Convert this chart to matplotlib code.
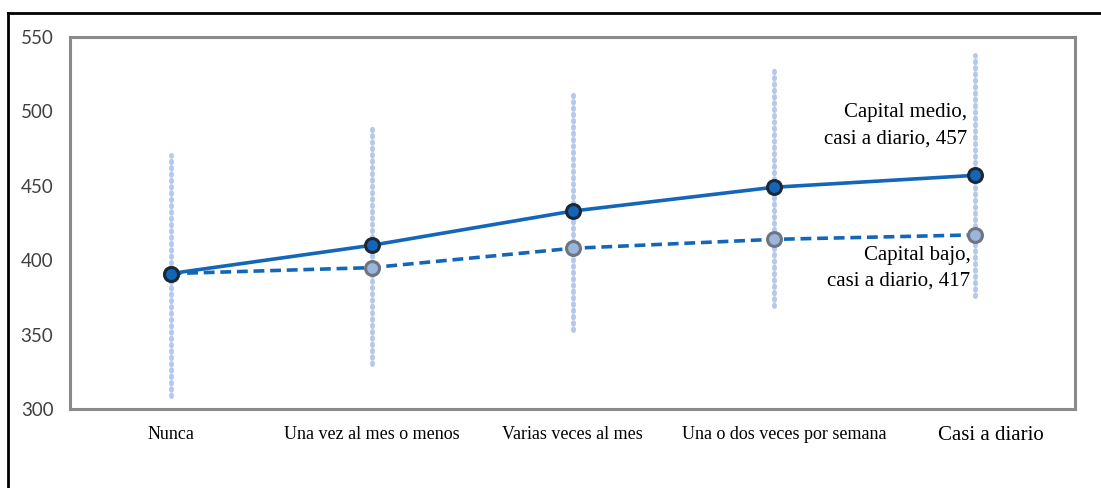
import matplotlib
matplotlib.use("Agg")
import matplotlib.pyplot as plt
from matplotlib.lines import Line2D
from matplotlib.transforms import offset_copy

# Frecuencia de lectura y puntaje medio por nivel de capital
categorias = ["Nunca", "Una vez al mes o menos", "Varias veces al mes",
              "Una o dos veces por semana", "Casi a diario"]
capital_medio = [391, 410, 433, 449, 457]
capital_bajo = [391, 395, 408, 414, 417]

# Rango de cada categoría (barras punteadas)
rango_min = [309, 330, 353, 369, 376]
rango_max = [471, 491, 514, 530, 538]

yticks = [300, 350, 400, 450, 500, 550]

azul = "#1466b8"
azul_claro = "#b7c9ea"

fig = plt.figure(figsize=(11.01, 4.88), dpi=100)
ax = fig.add_axes([0.0636, 0.1619, 0.9128, 0.7623])

x = list(range(len(categorias)))

# barras de rango
ax.vlines(x, rango_min, rango_max, colors=azul_claro, linewidth=3.5,
          linestyles=(0, (0.3, 1.0)), capstyle="round", zorder=1)

ax.plot(x, capital_bajo, color=azul, linewidth=2.6, linestyle=(0, (3, 1.6)),
        marker="o", markersize=10, markerfacecolor="#9ab6dc",
        markeredgecolor="#6e7580", markeredgewidth=2.2, zorder=3)
ax.plot(x, capital_medio, color=azul, linewidth=2.6,
        marker="o", markersize=10, markerfacecolor=azul,
        markeredgecolor="#1c2836", markeredgewidth=2.2, zorder=4)

ax.set_xlim(-0.5, 4.5)
ax.set_ylim(300, 550)
ax.set_yticks(yticks)
ax.set_xticks([])
ax.tick_params(axis="y", length=0, pad=12, labelsize=13.5, labelcolor="#404040")
for lbl in ax.get_yticklabels():
    lbl.set_fontfamily("Lato")
    lbl.set_verticalalignment("center_baseline")

for s in ax.spines.values():
    s.set_color("#8a8a8a")
    s.set_linewidth(2.2)

# etiquetas de categoría bajo el eje (las dos últimas algo corridas a la derecha)
desplaz = [0, 0, 0, 11, 16]
for i, c in enumerate(categorias):
    size = 15 if i == len(categorias) - 1 else 13
    tr = offset_copy(ax.transData, fig=fig, x=desplaz[i], y=-17, units="dots")
    ax.text(i, 300, c, transform=tr, ha="center", va="top",
            fontsize=size, family="Liberation Serif", color="black")

ax.annotate("Capital medio,\ncasi a diario, %d" % capital_medio[-1],
            xy=(4, capital_medio[-1]), xytext=(-7, 27), textcoords="offset pixels",
            ha="right", va="bottom", fontsize=15, family="Liberation Serif",
            linespacing=1.5)
ax.annotate("Capital bajo,\ncasi a diario, %d" % capital_bajo[-1],
            xy=(4, capital_bajo[-1]), xytext=(-4, -11), textcoords="offset pixels",
            ha="right", va="top", fontsize=15, family="Liberation Serif",
            linespacing=1.5)

# marco exterior
fig.add_artist(Line2D([8 / 1101, 1], [1 - 13 / 488, 1 - 13 / 488],
                      transform=fig.transFigure, color="black", linewidth=2))
fig.add_artist(Line2D([8 / 1101, 8 / 1101], [0, 1 - 13 / 488],
                      transform=fig.transFigure, color="black", linewidth=2))

fig.savefig("out.png", dpi=100)
